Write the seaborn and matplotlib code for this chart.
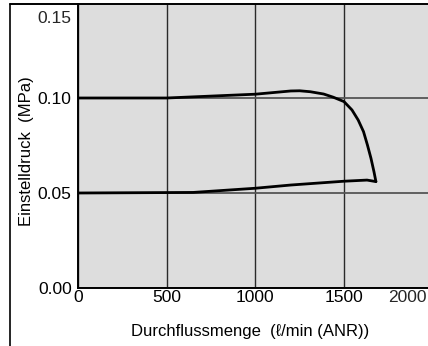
import matplotlib
matplotlib.use("Agg")
import matplotlib.pyplot as plt
import matplotlib.lines as mlines
import seaborn as sns
import pandas as pd

# Data
upper_flow = [0, 500, 750, 1000, 1200, 1250, 1310, 1385, 1440, 1500, 1545, 1580, 1610, 1632,
              1652, 1669, 1680]
upper_pressure = [0.1000, 0.1000, 0.1010, 0.1020, 0.1037, 0.1038, 0.1033, 0.1021, 0.1004, 0.0981,
                  0.0937, 0.0884, 0.0823, 0.0753, 0.0683, 0.0612, 0.0560]
lower_flow = [0, 650, 1000, 1200, 1500, 1630, 1680]
lower_pressure = [0.0500, 0.0503, 0.0525, 0.0542, 0.0562, 0.0568, 0.0560]

x_ticks = [0, 500, 1000, 1500]
x_tick_labels = ["0", "500", "1000", "1500"]
x_extra_label = "2000"
y_ticks = [0.0, 0.05, 0.10]
y_tick_labels = ["0.00", "0.05", "0.10"]
y_extra_label = "0.15"
x_label = "Durchflussmenge  (\u2113/min (ANR))"
y_label = "Einstelldruck  (MPa)"

sns.set_theme(style="white")
plt.rcParams["font.family"] = ["Liberation Sans", "DejaVu Sans"]

fig = plt.figure(figsize=(4.28, 3.46), dpi=100)
W, H = 428, 346
px_per_flow = 266 / 1500
px_per_p = 1900
ax_left, ax_top, ax_bottom = 78, 4, 288
ax_right = ax_left + 2000 * px_per_flow  # extends slightly past the figure edge
ax = fig.add_axes([ax_left / W, (H - ax_bottom) / H, (ax_right - ax_left) / W, (ax_bottom - ax_top) / H])
ax.set_facecolor("#dddddd")
ax.patch.set_edgecolor("none")

df_up = pd.DataFrame({"flow": upper_flow, "pressure": upper_pressure})
df_lo = pd.DataFrame({"flow": lower_flow, "pressure": lower_pressure})
sns.lineplot(data=df_up, x="flow", y="pressure", sort=False, color="black", lw=2.0, ax=ax,
             zorder=5, solid_joinstyle="round", solid_capstyle="round")
sns.lineplot(data=df_lo, x="flow", y="pressure", sort=False, color="black", lw=2.0, ax=ax,
             zorder=5, solid_joinstyle="round", solid_capstyle="round")

ax.set_xlim(0, 2000)
ax.set_ylim(0, (ax_bottom - ax_top) / px_per_p)

ax.set_xticks(x_ticks)
ax.set_xticklabels(x_tick_labels, fontsize=12.5)
ax.set_yticks(y_ticks)
ax.set_yticklabels(y_tick_labels, fontsize=12.5)
ax.tick_params(axis="both", length=0, colors="black")
ax.tick_params(axis="x", pad=1.5)
ax.tick_params(axis="y", pad=4.5)

ax.grid(True, axis="x", color="#2a2a2a", lw=1.0)
ax.grid(True, axis="y", color="#555555", lw=1.3)
ax.set_axisbelow(True)

for side in ["top", "right"]:
    ax.spines[side].set_visible(False)
for side in ["left", "bottom"]:
    ax.spines[side].set_color("black")
    ax.spines[side].set_linewidth(1.4)

ax.annotate(x_extra_label, xy=(407 - ax_left, 0), xycoords=("axes pixels", "axes fraction"),
            xytext=(0, -1.5), textcoords="offset points", ha="center", va="top", fontsize=12.5)
ax.annotate(y_extra_label, xy=(0, (ax_bottom - 16.7) / px_per_p), xycoords=("axes fraction", "data"),
            xytext=(-4.5, 0), textcoords="offset points", ha="right", va="center_baseline", fontsize=12.5)

ax.set_xlabel(x_label, fontsize=12, color="black")
ax.set_ylabel(y_label, fontsize=12, color="black")
ax.xaxis.label.set_va("center")
ax.yaxis.label.set_va("center")
ax.xaxis.set_label_coords((250 - ax_left) / (ax_right - ax_left), -(331.7 - ax_bottom) / (ax_bottom - ax_top))
ax.yaxis.set_label_coords(-(ax_left - 27) / (ax_right - ax_left), (ax_bottom - 151.5) / (ax_bottom - ax_top))

# Figure frame lines (left and top)
fig.add_artist(mlines.Line2D([9.5 / W, 9.5 / W], [0, (H - 4) / H], color="black", lw=1.2))
fig.add_artist(mlines.Line2D([9.5 / W, 1], [(H - 4) / H, (H - 4) / H], color="black", lw=1.4))

fig.savefig("out.png", dpi=100)
